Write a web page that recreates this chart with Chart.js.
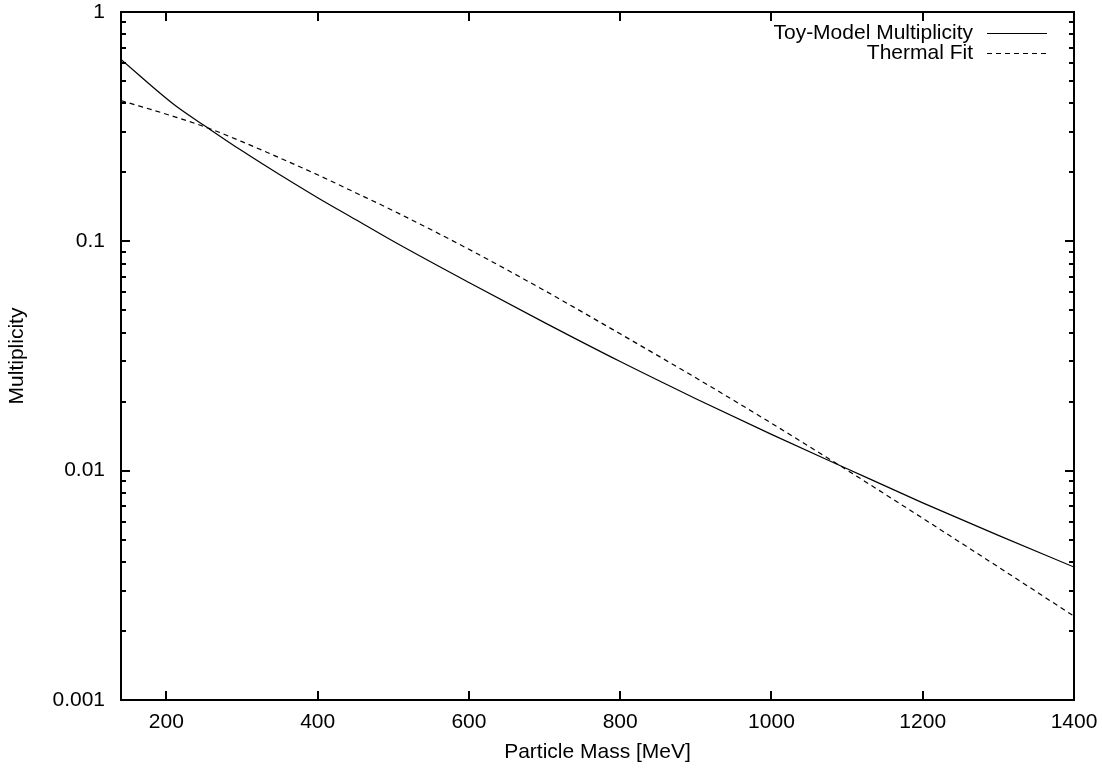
<!DOCTYPE html>
<html>
<head>
<meta charset="utf-8">
<title>Multiplicity vs Particle Mass</title>
<script src="https://cdn.jsdelivr.net/npm/chart.js@4.4.1/dist/chart.umd.min.js"></script>
<style>
  body { margin: 0; background: #fff; }
  canvas { display: block; }
</style>
</head>
<body>
<canvas id="chartMult" width="1102" height="768"></canvas>
<script>
// values
const masses     = [140, 210, 255, 300, 350, 400, 450, 500, 600, 700, 800, 900, 1000, 1100, 1200, 1300, 1400];
const toyModel   = [0.621, 0.395, 0.312, 0.248, 0.195, 0.155, 0.1245, 0.100, 0.0661, 0.0442, 0.0299, 0.0206, 0.0144, 0.0102, 0.00724, 0.00522, 0.0038];
const thermalFit = [0.411, 0.350, 0.312, 0.272, 0.231, 0.195, 0.163, 0.136, 0.0923, 0.061, 0.0395, 0.0254, 0.0161, 0.01005, 0.0062, 0.0038, 0.00232];

const seriesLabels = ['Toy-Model Multiplicity', 'Thermal Fit'];
const xTicks = [200, 400, 600, 800, 1000, 1200, 1400];
const yTicks = [0.001, 0.01, 0.1, 1];
const yTickLabels = ['0.001', '0.01', '0.1', '1'];

const FONT = '"Liberation Sans", Arial, sans-serif';
Chart.defaults.font.family = FONT;
Chart.defaults.font.size = 21;
Chart.defaults.color = '#000';

const points = (ys) => masses.map((m, i) => ({ x: m, y: ys[i] }));

// gnuplot style: frame with inward ticks on all four sides
const frameTicks = {
    id: 'frameTicks',
    afterDatasetsDraw(chart) {
        const { ctx, chartArea: a, scales: { x, y } } = chart;
        ctx.save();
        ctx.strokeStyle = '#000';
        ctx.lineWidth = 2;
        ctx.beginPath();
        xTicks.forEach(v => {
            const px = Math.round(x.getPixelForValue(v));
            ctx.moveTo(px, a.bottom); ctx.lineTo(px, a.bottom - 9);
            ctx.moveTo(px, a.top); ctx.lineTo(px, a.top + 9);
        });
        yTicks.forEach((d, i) => {
            const py = Math.round(y.getPixelForValue(d));
            ctx.moveTo(a.left, py); ctx.lineTo(a.left + 9, py);
            ctx.moveTo(a.right, py); ctx.lineTo(a.right - 9, py);
            if (i === yTicks.length - 1) return;
            for (let k = 2; k <= 9; k++) {
                const pm = Math.round(y.getPixelForValue(d * k));
                ctx.moveTo(a.left, pm); ctx.lineTo(a.left + 5, pm);
                ctx.moveTo(a.right, pm); ctx.lineTo(a.right - 5, pm);
            }
        });
        ctx.stroke();
        ctx.strokeRect(a.left, a.top, a.right - a.left, a.bottom - a.top);
        ctx.restore();
    }
};

// legend with the text on the left and the line sample on the right
const sideLegend = {
    id: 'sideLegend',
    afterDraw(chart) {
        const ctx = chart.ctx;
        ctx.save();
        ctx.font = '21px ' + FONT;
        ctx.fillStyle = '#000';
        ctx.textAlign = 'right';
        ctx.textBaseline = 'middle';
        chart.data.datasets.forEach((ds, i) => {
            const yy = 33 + i * 20;
            ctx.fillText(ds.label, 973, yy);
            ctx.strokeStyle = ds.borderColor;
            ctx.lineWidth = ds.borderWidth;
            ctx.setLineDash(ds.borderDash || []);
            ctx.beginPath();
            ctx.moveTo(987, yy + 0.5);
            ctx.lineTo(1047, yy + 0.5);
            ctx.stroke();
        });
        ctx.restore();
    }
};

new Chart(document.getElementById('chartMult'), {
    type: 'line',
    data: {
        datasets: [{
            label: seriesLabels[0],
            data: points(toyModel),
            borderColor: '#000',
            borderWidth: 1.2,
            pointRadius: 0,
            cubicInterpolationMode: 'monotone'
        }, {
            label: seriesLabels[1],
            data: points(thermalFit),
            borderColor: '#000',
            borderWidth: 1.2,
            borderDash: [5, 4],
            pointRadius: 0,
            cubicInterpolationMode: 'monotone'
        }]
    },
    options: {
        responsive: false,
        animation: false,
        devicePixelRatio: 1,
        layout: { padding: { left: 0, top: 12, right: 28, bottom: 0 } },
        plugins: {
            legend: { display: false },
            tooltip: { enabled: false }
        },
        scales: {
            x: {
                type: 'linear',
                min: 140,
                max: 1400,
                grid: { display: false, drawTicks: false },
                border: { display: false },
                afterBuildTicks: (scale) => { scale.ticks = xTicks.map(v => ({ value: v })); },
                afterFit: (scale) => {
                    scale.height = 68;
                    scale.paddingLeft = 0;
                    scale.paddingRight = 0;
                },
                ticks: { padding: 10, maxRotation: 0, callback: (v) => String(v) },
                title: { display: true, text: 'Particle Mass [MeV]', padding: { top: 0, bottom: 3 } }
            },
            y: {
                type: 'logarithmic',
                min: 0.001,
                max: 1,
                grid: { display: false, drawTicks: false },
                border: { display: false },
                afterBuildTicks: (scale) => { scale.ticks = yTicks.map(v => ({ value: v })); },
                afterFit: (scale) => {
                    scale.width = 121;
                    scale.paddingTop = 0;
                    scale.paddingBottom = 0;
                },
                ticks: {
                    padding: 16,
                    callback: (v) => yTickLabels[yTicks.indexOf(v)] ?? ''
                },
                title: { display: true, text: 'Multiplicity', padding: { top: 5, bottom: 0 } }
            }
        }
    },
    plugins: [frameTicks, sideLegend]
});
</script>
</body>
</html>
